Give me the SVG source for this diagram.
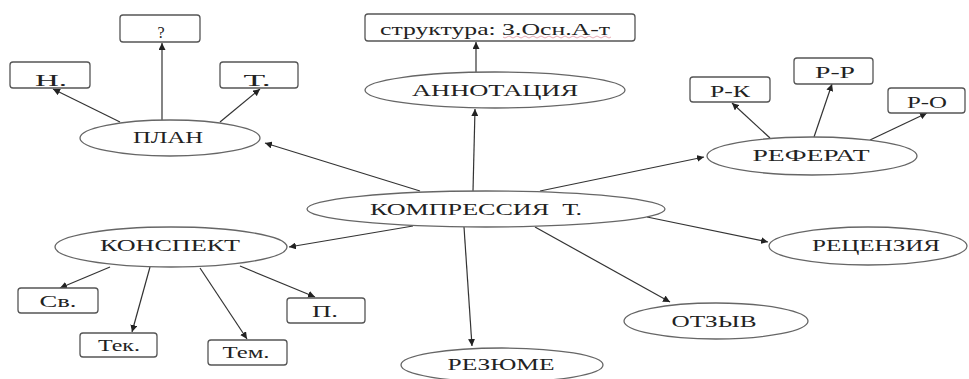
<svg xmlns="http://www.w3.org/2000/svg" width="969" height="379" viewBox="0 0 969 379">
<defs>
<marker id="ah" viewBox="0 0 10 10" refX="10" refY="5" markerWidth="7" markerHeight="7" markerUnits="userSpaceOnUse" orient="auto">
<path d="M0,0 L10,5 L0,10 z" fill="#222"/>
</marker>
<style>
.el{fill:#fff;stroke:#666;stroke-width:1.3}
.bx{fill:#fff;stroke:#555;stroke-width:1.3}
.t{font-size:16px;fill:#222;text-anchor:middle}
.c line{stroke:#333;stroke-width:1.2;marker-end:url(#ah)}
</style>
</defs>
<rect width="969" height="379" fill="#fff"/>
<g class="c" id="connectors">
<line x1="120" y1="122" x2="53" y2="89"/>
<line x1="162" y1="120" x2="162" y2="43"/>
<line x1="220" y1="122" x2="260" y2="89"/>
<line x1="420" y1="191" x2="265" y2="143"/>
<line x1="473" y1="191" x2="475" y2="109"/>
<line x1="476" y1="72" x2="476" y2="42"/>
<line x1="540" y1="191" x2="704" y2="157"/>
<line x1="770" y1="138" x2="732" y2="103"/>
<line x1="814" y1="137" x2="832" y2="84"/>
<line x1="870" y1="140" x2="927" y2="113"/>
<line x1="413" y1="226" x2="289" y2="247"/>
<line x1="110" y1="267" x2="60" y2="288"/>
<line x1="150" y1="267" x2="132" y2="332"/>
<line x1="200" y1="268" x2="247" y2="339"/>
<line x1="240" y1="266" x2="315" y2="297"/>
<line x1="464" y1="227" x2="472" y2="346"/>
<line x1="535" y1="227" x2="670" y2="302"/>
<line x1="647" y1="217" x2="768" y2="242"/>
</g>
<g font-family="'Liberation Serif', 'DejaVu Serif', 'Times New Roman', serif">
<g id="kompressiya"><ellipse class="el" cx="486" cy="209" rx="179" ry="18"/><text class="t" x="476" y="215" textLength="212" lengthAdjust="spacingAndGlyphs" xml:space="preserve">КОМПРЕССИЯ  Т.</text></g>
<g id="plan"><ellipse class="el" cx="170" cy="138" rx="90" ry="18"/><text class="t" x="168" y="143" textLength="70" lengthAdjust="spacingAndGlyphs">ПЛАН</text></g>
<g id="plan-n"><rect class="bx" x="10" y="62" width="80" height="26" rx="3"/><text class="t" x="51" y="86" textLength="32" lengthAdjust="spacingAndGlyphs">Н.</text></g>
<g id="plan-q"><rect class="bx" x="120" y="15" width="80" height="27" rx="3"/><text class="t" x="161" y="38" fill="#222">?</text></g>
<g id="plan-t"><rect class="bx" x="220" y="62" width="78" height="26" rx="3"/><text class="t" x="257" y="86" textLength="27" lengthAdjust="spacingAndGlyphs">Т.</text></g>
<g id="annotaciya"><ellipse class="el" cx="495" cy="90" rx="130" ry="18"/><text class="t" x="495" y="96" textLength="166" lengthAdjust="spacingAndGlyphs">АННОТАЦИЯ</text></g>
<g id="struktura"><rect class="bx" x="365" y="14" width="270" height="27" rx="3"/><text class="t" x="495" y="35" textLength="230" lengthAdjust="spacingAndGlyphs">структура: З.Осн.А-т</text><path d="M503,37 q2,2 4,0 t4,0 t4,0 t4,0 t4,0 t4,0 t4,0 t4,0 t4,0 t4,0 t4,0 t4,0 t4,0 t4,0 t4,0 t4,0 t4,0 t4,0 t4,0 t4,0 t4,0 t4,0 t4,0 t4,0 t4,0 t4,0 t4,0" fill="none" stroke="#d46a7a" stroke-width="0.8" opacity="0.7"/></g>
<g id="referat"><ellipse class="el" cx="812" cy="156" rx="105" ry="19"/><text class="t" x="811" y="161" textLength="117" lengthAdjust="spacingAndGlyphs">РЕФЕРАТ</text></g>
<g id="r-k"><rect class="bx" x="690" y="77" width="80" height="25" rx="3"/><text class="t" x="730" y="97" textLength="40" lengthAdjust="spacingAndGlyphs">Р-К</text></g>
<g id="r-r"><rect class="bx" x="794" y="58" width="79" height="26" rx="3"/><text class="t" x="835" y="78" textLength="40" lengthAdjust="spacingAndGlyphs">Р-Р</text></g>
<g id="r-o"><rect class="bx" x="888" y="88" width="77" height="25" rx="3"/><text class="t" x="927" y="108" textLength="40" lengthAdjust="spacingAndGlyphs">Р-О</text></g>
<g id="konspekt"><ellipse class="el" cx="171" cy="247" rx="116" ry="20"/><text class="t" x="170" y="251" textLength="140" lengthAdjust="spacingAndGlyphs">КОНСПЕКТ</text></g>
<g id="sv"><rect class="bx" x="18" y="288" width="80" height="25" rx="3"/><text class="t" x="58" y="307" textLength="37" lengthAdjust="spacingAndGlyphs">Св.</text></g>
<g id="tek"><rect class="bx" x="80" y="333" width="77" height="24" rx="3"/><text class="t" x="119" y="351" textLength="42" lengthAdjust="spacingAndGlyphs">Тек.</text></g>
<g id="tem"><rect class="bx" x="208" y="340" width="79" height="25" rx="3"/><text class="t" x="246" y="358" textLength="47" lengthAdjust="spacingAndGlyphs">Тем.</text></g>
<g id="p"><rect class="bx" x="287" y="298" width="78" height="25" rx="3"/><text class="t" x="325" y="317" textLength="26" lengthAdjust="spacingAndGlyphs">П.</text></g>
<g id="rezyume"><ellipse class="el" cx="502" cy="365" rx="101" ry="17"/><text class="t" x="501" y="370" textLength="107" lengthAdjust="spacingAndGlyphs">РЕЗЮМЕ</text></g>
<g id="otzyv"><ellipse class="el" cx="716" cy="321" rx="92" ry="18"/><text class="t" x="714" y="327" textLength="85" lengthAdjust="spacingAndGlyphs">ОТЗЫВ</text></g>
<g id="recenziya"><ellipse class="el" cx="868" cy="246" rx="99" ry="19"/><text class="t" x="876" y="251" textLength="128" lengthAdjust="spacingAndGlyphs">РЕЦЕНЗИЯ</text></g>
</g>
</svg>
